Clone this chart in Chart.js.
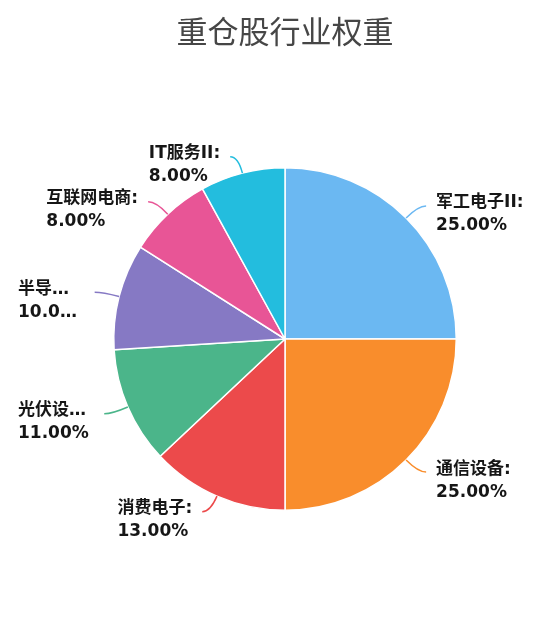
<!DOCTYPE html>
<html>
<head>
<meta charset="utf-8">
<script src="https://cdn.jsdelivr.net/npm/chart.js@4/dist/chart.umd.min.js"></script>
<style>
  html, body { margin: 0; padding: 0; background: #ffffff; }
  #wrap { width: 550px; height: 628px; }
</style>
</head>
<body>
<div id="wrap"><canvas id="c" width="550" height="628"></canvas></div>
<script>
const titleText = '重仓股行业权重';
const categories = ['军工电子II', '通信设备', '消费电子', '光伏设备', '半导体设备', '互联网电商', 'IT服务II'];
const weights = [25, 25, 13, 11, 10, 8, 8];
const colors = ['#6BB8F2', '#F98D2C', '#EC4A4B', '#4BB58A', '#8679C4', '#E85596', '#23BDDE'];

const LABEL_FONT = 'bold 17px "DejaVu Sans", "Noto Sans CJK SC", sans-serif';

function truncate(ctx, text, maxW) {
  if (ctx.measureText(text).width <= maxW) return text;
  let s = text;
  while (s.length > 0 && ctx.measureText(s + '…').width > maxW) s = s.slice(0, -1);
  return s + '…';
}

const outsideLabels = {
  id: 'outsideLabels',
  afterDatasetsDraw(chart) {
    const ctx = chart.ctx;
    const meta = chart.getDatasetMeta(0);
    const data = chart.data.datasets[0].data;
    const total = data.reduce((a, b) => a + b, 0);
    ctx.save();
    ctx.font = LABEL_FONT;
    meta.data.forEach((arc, i) => {
      const p = arc.getProps(['x', 'y', 'startAngle', 'endAngle', 'outerRadius'], true);
      const mid = (p.startAngle + p.endAngle) / 2;
      const cx = Math.cos(mid), cy = Math.sin(mid);
      const x0 = p.x + cx * p.outerRadius, y0 = p.y + cy * p.outerRadius;
      const x1 = x0 + cx * 17, y1 = y0 + cy * 17;
      const side = cx >= 0 ? 1 : -1;
      const x2 = x1 + side * 8, y2 = y1;
      ctx.strokeStyle = colors[i];
      ctx.lineWidth = 1.5;
      ctx.beginPath();
      ctx.moveTo(x0, y0);
      ctx.quadraticCurveTo(x1, y1, x2, y2);
      ctx.stroke();

      const gap = 10;
      const full1 = chart.data.labels[i] + ':';
      const full2 = (data[i] / total * 100).toFixed(2) + '%';
      let l1, l2, left;
      ctx.fillStyle = '#161616';
      ctx.textBaseline = 'middle';
      ctx.textAlign = 'left';
      if (side > 0) {
        left = x2 + gap;
        const maxW = chart.width - 4 - left;
        l1 = truncate(ctx, full1, maxW);
        l2 = truncate(ctx, full2, maxW);
      } else {
        const right = x2 - gap;
        const boxLeft = 18;
        const maxW = right - boxLeft - 3;
        l1 = truncate(ctx, full1, maxW);
        l2 = truncate(ctx, full2, maxW);
        if (l1 !== full1 || l2 !== full2) {
          left = boxLeft;
        } else {
          const w = Math.max(ctx.measureText(l1).width, ctx.measureText(l2).width);
          left = right - w;
        }
      }
      const ty = y2 - 3;
      ctx.fillText(l1, left, ty);
      ctx.fillText(l2, left, ty + 23);
    });
    ctx.restore();
  },
  afterDraw(chart) {
    const ctx = chart.ctx;
    ctx.save();
    ctx.font = '31px "Noto Sans CJK SC", sans-serif';
    ctx.fillStyle = '#464646';
    ctx.textAlign = 'center';
    ctx.textBaseline = 'middle';
    ctx.fillText(titleText, 285, 31);
    ctx.restore();
  }
};

new Chart(document.getElementById('c'), {
  type: 'pie',
  data: {
    labels: categories,
    datasets: [{
      data: weights,
      backgroundColor: colors,
      borderColor: '#ffffff',
      borderWidth: 1.5
    }]
  },
  options: {
    responsive: false,
    animation: false,
    layout: { padding: { top: 167, bottom: 117, left: 20, right: 0 } },
    plugins: {
      legend: { display: false },
      tooltip: { enabled: false },
      title: { display: false }
    }
  },
  plugins: [outsideLabels]
});
</script>
</body>
</html>
